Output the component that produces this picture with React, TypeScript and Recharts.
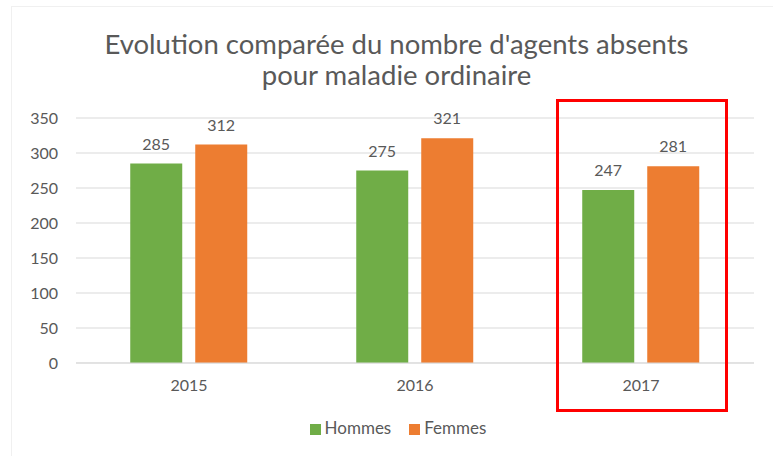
import React from "react";
import {
  BarChart,
  Bar,
  XAxis,
  YAxis,
  CartesianGrid,
  Legend,
  LabelList,
} from "recharts";

const years = ["2015", "2016", "2017"];
const hommes = [285, 275, 247];
const femmes = [312, 321, 281];
const yTicks = [0, 50, 100, 150, 200, 250, 300, 350];
const seriesOrder = ["Hommes", "Femmes"];

const data = years.map((year, i) => ({
  year,
  Hommes: hommes[i],
  Femmes: femmes[i],
}));

const FONT = "Lato, 'Open Sans', sans-serif";
const TEXT = "#595959";

const App: React.FC = () => {
  return (
    <div
      style={{
        position: "absolute",
        top: 0,
        left: 0,
        width: 773,
        height: 456,
        background: "#fff",
        fontFamily: FONT,
      }}
    >
      <div
        style={{
          position: "absolute",
          left: 11,
          top: 6,
          width: 770,
          height: 460,
          border: "1px solid #f0f0f0",
        }}
      />
      <div
        style={{
          position: "absolute",
          top: 28,
          left: 0,
          width: 793,
          textAlign: "center",
          fontSize: 27.5,
          lineHeight: "31px",
          color: TEXT,
        }}
      >
        Evolution comparée du nombre d'agents absents
        <br />
        pour maladie ordinaire
      </div>
      <BarChart
        width={773}
        height={456}
        data={data}
        margin={{ top: 118, right: 19, left: 0, bottom: 18 }}
        barCategoryGap="24%"
        barGap={13}
      >
        <CartesianGrid vertical={false} stroke="#d9d9d9" />
        <XAxis
          dataKey="year"
          axisLine={{ stroke: "#d9d9d9" }}
          tickLine={false}
          tickSize={0}
          tickMargin={17}
          height={54}
          tick={{ fill: TEXT, fontSize: 16, fontFamily: FONT }}
        />
        <YAxis
          domain={[0, 350]}
          ticks={yTicks}
          axisLine={false}
          tickLine={false}
          tickSize={0}
          tickMargin={18}
          width={76}
          tick={{ fill: TEXT, fontSize: 16, fontFamily: FONT }}
        />
        <Legend
          verticalAlign="bottom"
          iconType="square"
          iconSize={11}
          itemSorter={(item: any) => seriesOrder.indexOf(item.value)}
          wrapperStyle={{ fontSize: 17, fontFamily: FONT, paddingLeft: 30 }}
          formatter={(value: string) => (
            <span style={{ color: TEXT, marginRight: 8 }}>{value}</span>
          )}
        />
        <Bar dataKey="Hommes" fill="#70AD47" isAnimationActive={false}>
          <LabelList
            dataKey="Hommes"
            position="top"
            offset={14}
            fill={TEXT}
            fontSize={16}
            fontFamily={FONT}
          />
        </Bar>
        <Bar dataKey="Femmes" fill="#ED7D31" isAnimationActive={false}>
          <LabelList
            dataKey="Femmes"
            position="top"
            offset={14}
            fill={TEXT}
            fontSize={16}
            fontFamily={FONT}
          />
        </Bar>
      </BarChart>
      <div
        style={{
          position: "absolute",
          left: 556,
          top: 99,
          width: 166,
          height: 307,
          border: "3px solid #ff0000",
        }}
      />
    </div>
  );
};

export default App;
